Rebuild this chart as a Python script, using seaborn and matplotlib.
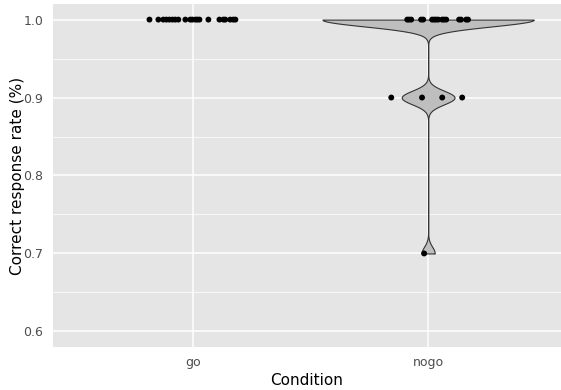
import numpy as np
import pandas as pd
import matplotlib
matplotlib.use("Agg")
import matplotlib.pyplot as plt
import seaborn as sns

# ---- data ----
conditions = ["go", "nogo"]

go_rates = [1.0] * 21
go_jitter = [-0.187, -0.149, -0.128, -0.115, -0.102, -0.089, -0.077, -0.064,
             -0.034, -0.013, -0.004, 0.009, 0.017, 0.026, 0.064, 0.111,
             0.128, 0.136, 0.157, 0.170, 0.179]

nogo_rates = [1.0] * 16 + [0.9] * 4 + [0.7]
nogo_jitter = [-0.089, -0.081, -0.072, -0.030, -0.021, 0.017, 0.026, 0.034,
               0.043, 0.060, 0.068, 0.077, 0.132, 0.140, 0.162, 0.170,
               -0.157, -0.026, 0.060, 0.145,
               -0.017]

y_ticks = [0.6, 0.7, 0.8, 0.9, 1.0]
y_tick_labels = ["0.6", "0.7", "0.8", "0.9", "1.0"]

df = pd.DataFrame({
    "Condition": ["go"] * len(go_rates) + ["nogo"] * len(nogo_rates),
    "rate": go_rates + nogo_rates,
    "jitter": go_jitter + nogo_jitter,
})
df["xpos"] = df["Condition"].map({c: i for i, c in enumerate(conditions)}) + df["jitter"]

# ---- figure ----
sns.set_style("white")
W, H = 561, 390
fig = plt.figure(figsize=(W / 100, H / 100), dpi=100)
left, right, top, bottom = 52.5, 561, 4, 347
ax = fig.add_axes([left / W, 1 - bottom / H, (right - left) / W, (bottom - top) / H])
ax.set_facecolor("#E5E5E5")

# violin only where the data vary (the "go" group is constant)
df_violin = df[df["Condition"] == "nogo"]
sns.violinplot(data=df_violin, x="Condition", y="rate", order=conditions,
               cut=0, inner=None, density_norm="width", width=0.9,
               bw_method="scott", bw_adjust=0.22, gridsize=800,
               color="#BEBEBE", saturation=1, linecolor="#333333",
               linewidth=0.8, ax=ax, zorder=2)

sns.scatterplot(data=df, x="xpos", y="rate", color="black", s=18,
                edgecolor="none", legend=False, ax=ax, zorder=3)

ax.set_xlim(-0.6, (561 - 193) / 235)
ax.set_ylim(0.58, 1.02)

ax.set_xticks(range(len(conditions)))
ax.set_xticklabels(conditions)
ax.set_yticks(y_ticks)
ax.set_yticklabels(y_tick_labels)
ax.set_yticks([0.65, 0.75, 0.85, 0.95], minor=True)

ax.grid(True, which="major", color="white", linewidth=1.1, zorder=0)
ax.grid(True, which="minor", axis="y", color="white", linewidth=0.55, zorder=0)
ax.set_axisbelow(True)

for s in ax.spines.values():
    s.set_visible(False)

ax.tick_params(axis="both", which="major", direction="out", length=3.5,
               width=0.8, color="#333333", labelcolor="#4D4D4D",
               labelsize=9, pad=3)
ax.tick_params(axis="both", which="minor", length=0)

ax.set_xlabel("Condition", fontsize=11, color="black", labelpad=3)
ax.set_ylabel("Correct response rate (%)", fontsize=11, color="black", labelpad=-1)

fig.savefig("out.png", dpi=100)
